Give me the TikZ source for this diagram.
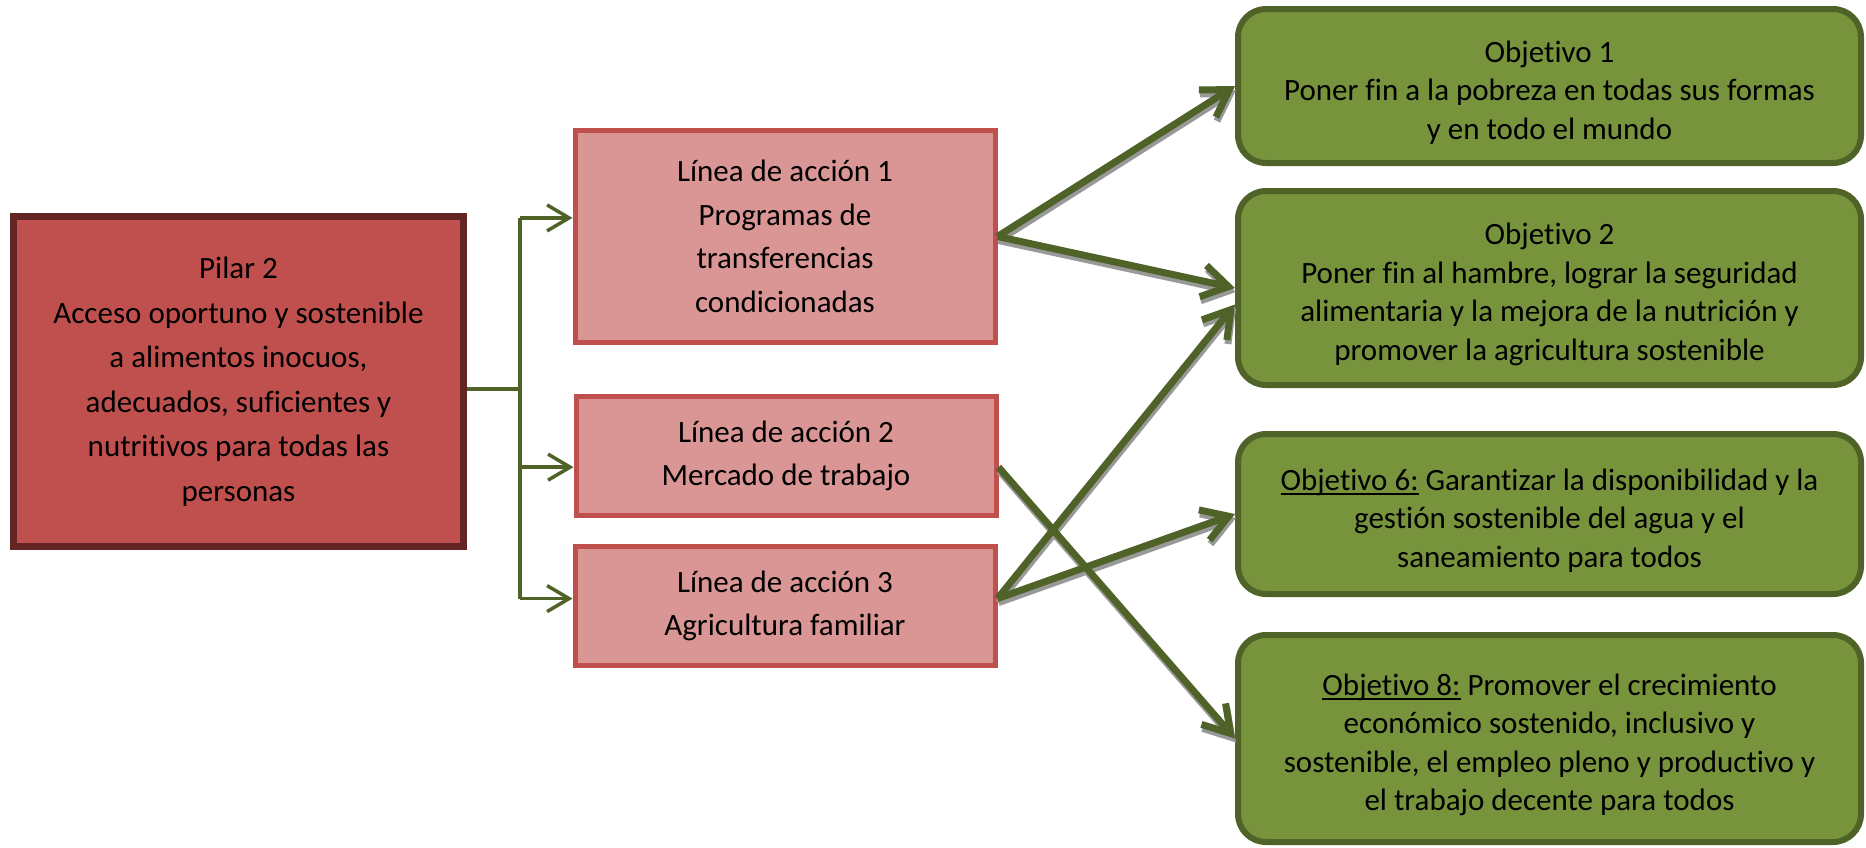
\documentclass[tikz,border=0pt]{standalone}
\usepackage{fontspec}
\setmainfont{Carlito}[Ligatures=NoCommon]
\usepackage{tikz}
\usetikzlibrary{
    positioning,
    arrows.meta,
    calc
}
\definecolor{pilarRed}{RGB}{192, 80, 77}
\definecolor{pilarDark}{RGB}{99, 37, 35}
\definecolor{lineaPink}{RGB}{217, 150, 148}
\definecolor{goalGreen}{RGB}{119, 147, 60}
\definecolor{goalDark}{RGB}{79, 98, 40}
\newcommand{\goalul}[1]{\setbox0\hbox{#1}\rlap{\rule[-5pt]{\wd0}{2.2pt}}#1}
\newcommand{\goalstrut}{\rule{0pt}{34pt}}
\frenchspacing

\begin{document}
\begin{tikzpicture}[x=1pt, y=-1pt,
    pilarbox/.style={draw=pilarDark, fill=pilarRed, line width=7pt, align=center,
        minimum width=450pt, minimum height=330pt, font=\fontsize{31}{44.5}\selectfont},
    lineabox/.style={draw=pilarRed, fill=lineaPink, line width=5pt, align=center,
        minimum width=420pt, font=\fontsize{31}{43.5}\selectfont},
    goalbox/.style={draw=goalDark, fill=goalGreen, line width=6pt, align=center,
        rounded corners=28pt, minimum width=623pt, font=\fontsize{31}{38.5}\selectfont},
    elbow/.style={draw=goalDark, line width=3.5pt},
    elbowarrow/.style={elbow, -{Straight Barb[length=22pt, width=26pt]}},
    goalarrow/.style={draw=goalDark, line width=7pt, -{Straight Barb[length=26pt, width=32pt]}},
    goalshadow/.style={goalarrow, draw=black!40, transform canvas={shift={(1pt,-4pt)}}}
]
    \useasboundingbox (0,0) rectangle (1866,847);

    % Pillar
    \node[pilarbox] (pilar) at (238.5,381.5)
        {Pilar 2\\Acceso oportuno y sostenible\\a alimentos inocuos,\\adecuados, suficientes y\\nutritivos para todas las\\personas};

    % Action lines
    \node[lineabox, minimum height=212pt] (l1) at (785,236.5)
        {Línea de acción 1\\Programas de\\transferencias\\condicionadas};
    \node[lineabox, minimum height=119pt] (l2) at (786,456)
        {Línea de acción 2\\Mercado de trabajo};
    \node[lineabox, minimum height=119pt] (l3) at (785,606)
        {Línea de acción 3\\Agricultura familiar};

    % Goals
    \node[goalbox, minimum height=154pt] (o1) at (1549.5,86)
        {\goalstrut Objetivo 1\\Poner fin a la pobreza en todas sus formas\\y en todo el mundo};
    \node[goalbox, minimum height=194pt] (o2) at (1549.5,288)
        {\goalstrut Objetivo 2\\Poner fin al hambre, lograr la seguridad\\alimentaria y la mejora de la nutrición y\\promover la agricultura sostenible};
    \node[goalbox, minimum height=160pt] (o6) at (1549.5,514)
        {\goalstrut\goalul{Objetivo 6:} Garantizar la disponibilidad y la\\gestión sostenible del agua y el\\saneamiento para todos};
    \node[goalbox, minimum height=207pt] (o8) at (1549.5,738.5)
        {\goalstrut\goalul{Objetivo 8:} Promover el crecimiento\\económico sostenido, inclusivo y\\sostenible, el empleo pleno y productivo y\\el trabajo decente para todos};

    % Pillar to action lines
    \coordinate (fork) at (520,389);
    \draw[elbow] (pilar.east |- fork) -- (fork) (fork |- l1.175) -- (fork |- l3.178);
    \foreach \line in {l1.175, l2.183, l3.178}
        \draw[elbowarrow] (fork |- \line) -- (\line);

    % Action lines to goals
    \foreach \from/\to in {l1.east/o1.west, l1.east/o2.west, l2.-3/o8.west, l3.2/o2.183, l3.2/o6.west}
        \draw[goalshadow] (\from) -- (\to);
    \foreach \from/\to in {l1.east/o1.west, l1.east/o2.west, l2.-3/o8.west, l3.2/o2.183, l3.2/o6.west}
        \draw[goalarrow] (\from) -- (\to);
\end{tikzpicture}
\end{document}
